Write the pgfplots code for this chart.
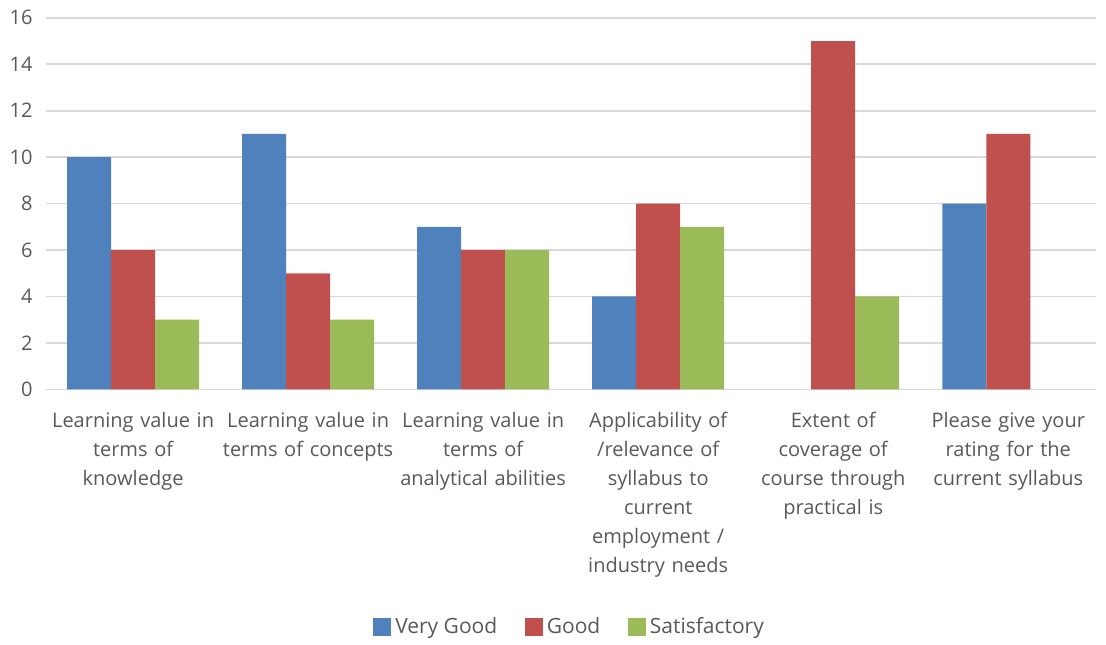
\documentclass[border=0pt]{standalone}
\usepackage{pgfplots}
\pgfplotsset{compat=1.18}
\usepackage{fontspec}
\setmainfont{Open Sans}
\definecolor{cblue}{HTML}{4F81BD}
\definecolor{cred}{HTML}{C0504D}
\definecolor{cgreen}{HTML}{9BBB59}
\definecolor{txt}{HTML}{595959}
\definecolor{grid}{HTML}{D9D9D9}
\begin{document}
\begin{tikzpicture}
\begin{axis}[
  scale only axis,
  width=530pt, height=187.5pt,
  ybar=0pt, bar width=22.2pt,
  xmin=-0.5, xmax=5.5,
  ymin=0, ymax=16, ytick={0,2,...,16},
  xtick={0,1,2,3,4,5},
  xticklabels={{Learning value in\\terms of\\knowledge},{Learning value in\\terms of concepts},{Learning value in\\terms of\\analytical abilities},{Applicability of\\/relevance of\\syllabus to\\current\\employment /\\industry needs},{Extent of\\coverage of\\course through\\practical is},{Please give your\\rating for the\\current syllabus}},
  xticklabel style={align=center, text width=92pt, font={\fontsize{10.1}{14.6}\selectfont}, text=txt, yshift=-8pt},
  yticklabel style={font={\fontsize{10.1}{12}\selectfont}, text=txt, xshift=-3pt},
  /pgf/number format/assume math mode=true,
  major tick length=0pt,
  axis x line*=bottom, axis y line*=left,
  x axis line style={draw=grid, line width=0.8pt},
  y axis line style={draw=none},
  ymajorgrids, grid style={draw=grid, line width=0.8pt},
  axis line style={-},
  legend style={at={(0.5,-0.64)}, anchor=center, draw=none, legend columns=-1,
    font={\fontsize{10.6}{12}\selectfont}, text=txt,
    /tikz/every even column/.append style={column sep=12pt}},
  legend image code/.code={\fill[#1] (0pt,-4.5pt) rectangle (9pt,4.5pt);},
  ytick style={draw=none}, xtick style={draw=none},
]
\addplot[fill=cblue, draw=none] coordinates {(0,10) (1,11) (2,7) (3,4) (5,8)};
\addplot[fill=cred, draw=none] coordinates {(0,6) (1,5) (2,6) (3,8) (4,15) (5,11)};
\addplot[fill=cgreen, draw=none] coordinates {(0,3) (1,3) (2,6) (3,7) (4,4)};
\legend{Very Good, Good, Satisfactory}
\end{axis}
\path[use as bounding box] (-23pt,-122pt) rectangle (530pt,196.5pt);
\end{tikzpicture}
\end{document}
